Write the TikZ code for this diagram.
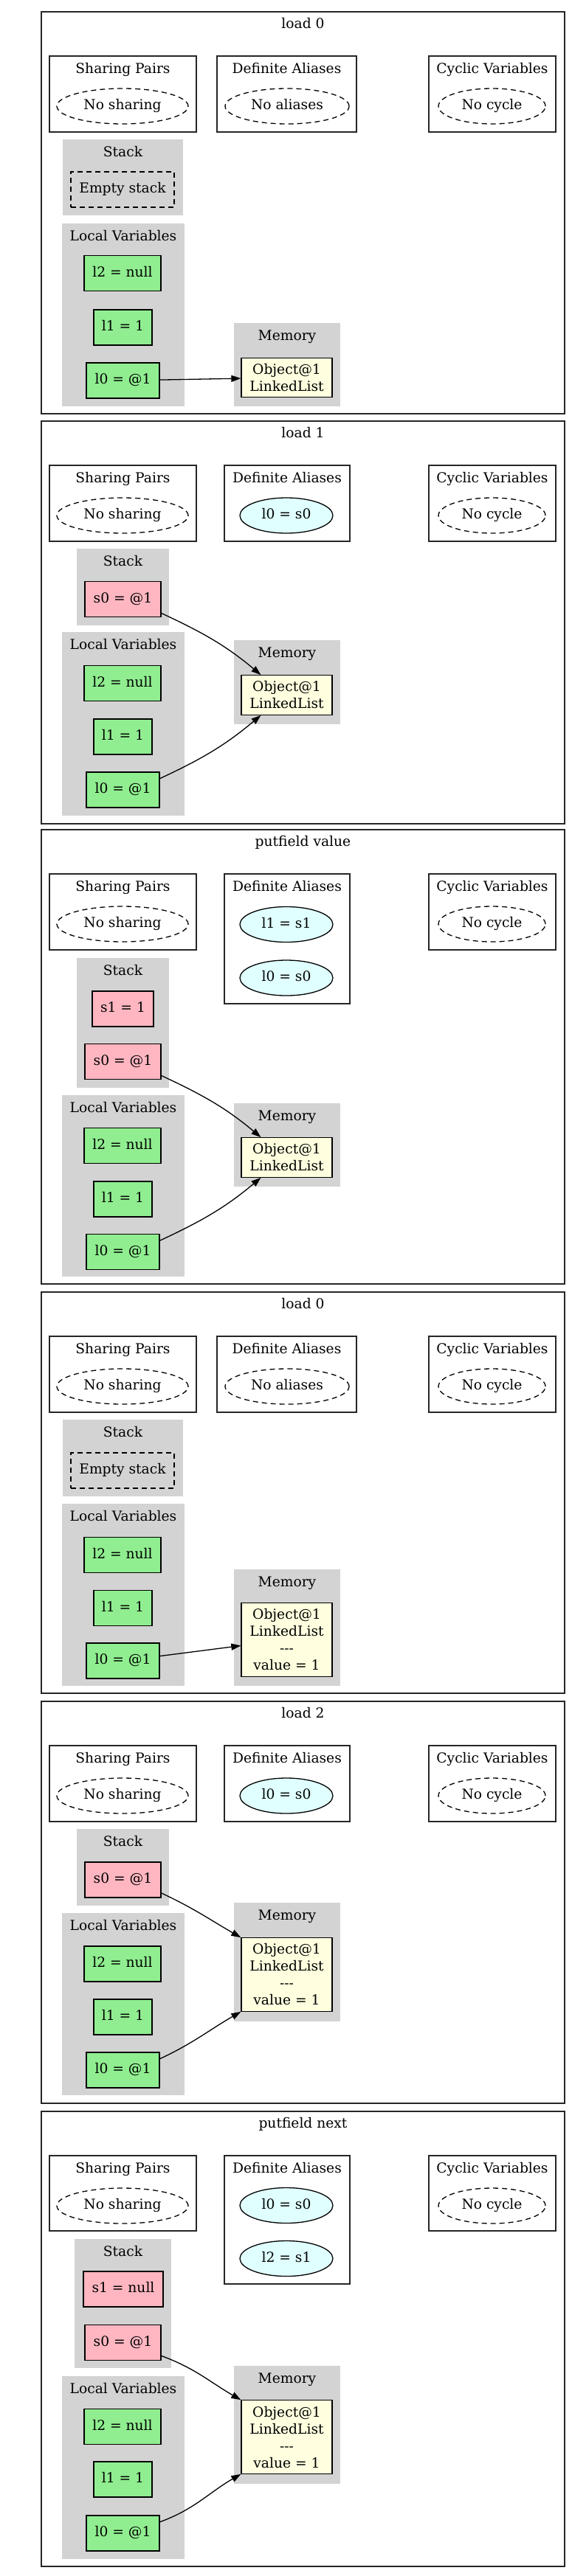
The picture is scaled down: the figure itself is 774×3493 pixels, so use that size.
\documentclass[tikz,border=0pt]{standalone}
\usepackage{fontspec}
\setmainfont{DejaVu Serif}
\usepackage{tikz}
\usetikzlibrary{arrows.meta,shapes.geometric}
\definecolor{corcluster}{RGB}{211,211,211}
\definecolor{corlocais}{RGB}{144,238,144}
\definecolor{corpilha}{RGB}{255,182,193}
\definecolor{coraliases}{RGB}{224,255,255}
\definecolor{cormemoria}{RGB}{255,255,224}

\tikzset{
  quadro/.style={draw=black!85, line width=1.3pt},
  cluster/.style={fill=corcluster},
  titulo/.style={anchor=base, inner sep=0pt},
  vazio/.style={ellipse, draw, dash pattern=on 7pt off 5pt, line width=1.3pt, minimum height=48pt, inner sep=0pt, text height=13.5pt, text depth=4pt},
  alias/.style={ellipse, draw, fill=coraliases, line width=1.3pt, minimum height=48pt, minimum width=126pt, inner sep=0pt, text height=13.5pt, text depth=4pt},
  pilhavazia/.style={draw, dash pattern=on 7pt off 5pt, line width=1.3pt, minimum height=48pt, minimum width=140pt, inner sep=0pt, text height=13.5pt, text depth=4pt},
  local/.style={draw, fill=corlocais, line width=1.3pt, minimum height=48pt, inner sep=0pt, text height=13.5pt, text depth=4pt},
  pilha/.style={draw, fill=corpilha, line width=1.3pt, minimum height=48pt, inner sep=0pt, text height=13.5pt, text depth=4pt},
  objeto/.style={draw, fill=cormemoria, line width=1.3pt, minimum width=123pt, inner xsep=0pt, inner ysep=8pt, align=center},
  ponteiro/.style={-{Triangle[length=13pt,width=9pt]}, line width=1.3pt}
}

\begin{document}
\begin{tikzpicture}[x=1pt, y=-1pt, font=\fontsize{18.67}{23}\selectfont]
\useasboundingbox (0,0) rectangle (774,3493);

% load 0
\draw[quadro] (56,16) rectangle (765,561);
\node[titulo] (tA) at (410.5,38.5) {load 0};
\draw[quadro] (67,76) rectangle (266,179);
\node[titulo] (spA) at (166.5,99.5) {Sharing Pairs};
\node[vazio, minimum width=178pt] (nsA) at (166,144) {No sharing};
\draw[quadro] (294,76) rectangle (483,179);
\node[titulo] (daA) at (388.5,99.5) {Definite Aliases};
\node[vazio, minimum width=168pt] (naA) at (389,144) {No aliases};
\draw[quadro] (581,76) rectangle (753,179);
\node[titulo] (cvA) at (667,99.5) {Cyclic Variables};
\node[vazio, minimum width=145pt] (ncA) at (666.5,144) {No cycle};
\fill[cluster] (85,189) rectangle (248,292);
\node[titulo] (stA) at (166.5,212.5) {Stack};
\node[pilhavazia] (esA) at (166,257) {Empty stack};
\fill[cluster] (84,303) rectangle (250,551);
\node[titulo] (lvA) at (167,326.5) {Local Variables};
\node[local, minimum width=104pt] (l2A) at (166,370.5) {l2 = null};
\node[local, minimum width=79pt] (l1A) at (166.5,444) {l1 = 1};
\node[local, minimum width=99pt] (l0A) at (166.5,516) {l0 = @1};
\fill[cluster] (317,438) rectangle (461,551);
\node[titulo] (meA) at (389,461.5) {Memory};
\node[objeto] (obA) at (388.5,512) {Object@1\\LinkedList};
\draw[ponteiro] (l0A) -- (obA);

% load 1
\draw[quadro] (56,571) rectangle (765,1117);
\node[titulo] (tB) at (410.5,593.5) {load 1};
\draw[quadro] (67,631) rectangle (266,734);
\node[titulo] (spB) at (166.5,654.5) {Sharing Pairs};
\node[vazio, minimum width=178pt] (nsB) at (166,699) {No sharing};
\draw[quadro] (304,631) rectangle (474,734);
\node[titulo] (daB) at (389,654.5) {Definite Aliases};
\node[alias] (a1B) at (388,699) {l0 = s0};
\draw[quadro] (581,631) rectangle (753,734);
\node[titulo] (cvB) at (667,654.5) {Cyclic Variables};
\node[vazio, minimum width=145pt] (ncB) at (666.5,699) {No cycle};
\fill[cluster] (104,744) rectangle (229,848);
\node[titulo] (stB) at (166.5,767.5) {Stack};
\node[pilha, minimum width=103pt] (s0B) at (166.5,812.5) {s0 = @1};
\fill[cluster] (84,857) rectangle (250,1106);
\node[titulo] (lvB) at (167,880.5) {Local Variables};
\node[local, minimum width=104pt] (l2B) at (166,926.5) {l2 = null};
\node[local, minimum width=79pt] (l1B) at (166.5,999) {l1 = 1};
\node[local, minimum width=99pt] (l0B) at (166.5,1071) {l0 = @1};
\fill[cluster] (317,868) rectangle (461,982);
\node[titulo] (meB) at (389,891.5) {Memory};
\node[objeto] (obB) at (388.5,942.5) {Object@1\\LinkedList};
\draw[ponteiro] (s0B.-20) to[out=-25, in=140] (obB.142);
\draw[ponteiro] (l0B.17) to[out=25, in=-140] (obB.218);

% putfield value
\draw[quadro] (56,1125) rectangle (765,1741);
\node[titulo] (tC) at (410.5,1147.5) {putfield value};
\draw[quadro] (67,1185) rectangle (266,1288);
\node[titulo] (spC) at (166.5,1208.5) {Sharing Pairs};
\node[vazio, minimum width=178pt] (nsC) at (166,1253) {No sharing};
\draw[quadro] (304,1185) rectangle (474,1361);
\node[titulo] (daC) at (389,1208.5) {Definite Aliases};
\node[alias] (a1C) at (388,1253.5) {l1 = s1};
\node[alias] (a2C) at (388,1326) {l0 = s0};
\draw[quadro] (581,1185) rectangle (753,1288);
\node[titulo] (cvC) at (667,1208.5) {Cyclic Variables};
\node[vazio, minimum width=145pt] (ncC) at (666.5,1253) {No cycle};
\fill[cluster] (104,1299) rectangle (229,1475);
\node[titulo] (stC) at (166.5,1322.5) {Stack};
\node[pilha, minimum width=83pt] (s1C) at (166.5,1368) {s1 = 1};
\node[pilha, minimum width=103pt] (s0C) at (166.5,1439.5) {s0 = @1};
\fill[cluster] (84,1485) rectangle (250,1731);
\node[titulo] (lvC) at (167,1508.5) {Local Variables};
\node[local, minimum width=104pt] (l2C) at (166,1553.5) {l2 = null};
\node[local, minimum width=79pt] (l1C) at (166.5,1626) {l1 = 1};
\node[local, minimum width=99pt] (l0C) at (166.5,1697.5) {l0 = @1};
\fill[cluster] (317,1496) rectangle (461,1609);
\node[titulo] (meC) at (389,1519.5) {Memory};
\node[objeto] (obC) at (388.5,1569.5) {Object@1\\LinkedList};
\draw[ponteiro] (s0C.-20) to[out=-25, in=140] (obC.142);
\draw[ponteiro] (l0C.17) to[out=25, in=-140] (obC.218);

% load 0
\draw[quadro] (56,1752) rectangle (765,2296);
\node[titulo] (tD) at (410.5,1774.5) {load 0};
\draw[quadro] (67,1812) rectangle (266,1915);
\node[titulo] (spD) at (166.5,1835.5) {Sharing Pairs};
\node[vazio, minimum width=178pt] (nsD) at (166,1880) {No sharing};
\draw[quadro] (294,1812) rectangle (483,1915);
\node[titulo] (daD) at (388.5,1835.5) {Definite Aliases};
\node[vazio, minimum width=168pt] (naD) at (389,1880) {No aliases};
\draw[quadro] (581,1812) rectangle (753,1915);
\node[titulo] (cvD) at (667,1835.5) {Cyclic Variables};
\node[vazio, minimum width=145pt] (ncD) at (666.5,1880) {No cycle};
\fill[cluster] (85,1925) rectangle (248,2029);
\node[titulo] (stD) at (166.5,1948.5) {Stack};
\node[pilhavazia] (esD) at (166,1994) {Empty stack};
\fill[cluster] (84,2039) rectangle (250,2286);
\node[titulo] (lvD) at (167,2062.5) {Local Variables};
\node[local, minimum width=104pt] (l2D) at (166,2108.5) {l2 = null};
\node[local, minimum width=79pt] (l1D) at (166.5,2180.5) {l1 = 1};
\node[local, minimum width=99pt] (l0D) at (166.5,2252) {l0 = @1};
\fill[cluster] (317,2128) rectangle (461,2286);
\node[titulo] (meD) at (389,2151.5) {Memory};
\node[objeto] (obD) at (388.5,2223.5) {Object@1\\LinkedList\\-{}-{}-\\value = 1};
\draw[ponteiro] (l0D) -- (obD);

% load 2
\draw[quadro] (56,2307) rectangle (765,2852);
\node[titulo] (tE) at (410.5,2329.5) {load 2};
\draw[quadro] (67,2367) rectangle (266,2470);
\node[titulo] (spE) at (166.5,2390.5) {Sharing Pairs};
\node[vazio, minimum width=178pt] (nsE) at (166,2435) {No sharing};
\draw[quadro] (304,2367) rectangle (474,2470);
\node[titulo] (daE) at (389,2390.5) {Definite Aliases};
\node[alias] (a1E) at (388,2435) {l0 = s0};
\draw[quadro] (581,2367) rectangle (753,2470);
\node[titulo] (cvE) at (667,2390.5) {Cyclic Variables};
\node[vazio, minimum width=145pt] (ncE) at (666.5,2435) {No cycle};
\fill[cluster] (104,2480) rectangle (229,2584);
\node[titulo] (stE) at (166.5,2503.5) {Stack};
\node[pilha, minimum width=103pt] (s0E) at (166.5,2549) {s0 = @1};
\fill[cluster] (84,2594) rectangle (250,2841);
\node[titulo] (lvE) at (167,2617.5) {Local Variables};
\node[local, minimum width=104pt] (l2E) at (166,2663) {l2 = null};
\node[local, minimum width=79pt] (l1E) at (166.5,2735) {l1 = 1};
\node[local, minimum width=99pt] (l0E) at (166.5,2807) {l0 = @1};
\fill[cluster] (317,2580) rectangle (461,2741);
\node[titulo] (meE) at (389,2603.5) {Memory};
\node[objeto] (obE) at (388.5,2677.5) {Object@1\\LinkedList\\-{}-{}-\\value = 1};
\draw[ponteiro] (s0E.-19) to[out=-25, in=150] (obE.141);
\draw[ponteiro] (l0E.17) to[out=25, in=-150] (obE.219);

% putfield next
\draw[quadro] (56,2863) rectangle (765,3480);
\node[titulo] (tF) at (410.5,2885.5) {putfield next};
\draw[quadro] (67,2923) rectangle (266,3025);
\node[titulo] (spF) at (166.5,2946.5) {Sharing Pairs};
\node[vazio, minimum width=178pt] (nsF) at (166,2991) {No sharing};
\draw[quadro] (304,2923) rectangle (474,3097);
\node[titulo] (daF) at (389,2946.5) {Definite Aliases};
\node[alias] (a1F) at (388,2990.5) {l0 = s0};
\node[alias] (a2F) at (388,3062.5) {l2 = s1};
\draw[quadro] (581,2923) rectangle (753,3025);
\node[titulo] (cvF) at (667,2946.5) {Cyclic Variables};
\node[vazio, minimum width=145pt] (ncF) at (666.5,2991) {No cycle};
\fill[cluster] (101,3036) rectangle (232,3211);
\node[titulo] (stF) at (166.5,3059.5) {Stack};
\node[pilha, minimum width=108pt] (s1F) at (167,3104) {s1 = null};
\node[pilha, minimum width=103pt] (s0F) at (166.5,3176.5) {s0 = @1};
\fill[cluster] (84,3222) rectangle (250,3470);
\node[titulo] (lvF) at (167,3245.5) {Local Variables};
\node[local, minimum width=104pt] (l2F) at (166,3290.5) {l2 = null};
\node[local, minimum width=79pt] (l1F) at (166.5,3362) {l1 = 1};
\node[local, minimum width=99pt] (l0F) at (166.5,3435) {l0 = @1};
\fill[cluster] (317,3208) rectangle (461,3368);
\node[titulo] (meF) at (389,3231.5) {Memory};
\node[objeto] (obF) at (388.5,3304.5) {Object@1\\LinkedList\\-{}-{}-\\value = 1};
\draw[ponteiro] (s0F.-19) to[out=-20, in=150] (obF.141);
\draw[ponteiro] (l0F.17) to[out=20, in=-150] (obF.219);
\end{tikzpicture}
\end{document}
